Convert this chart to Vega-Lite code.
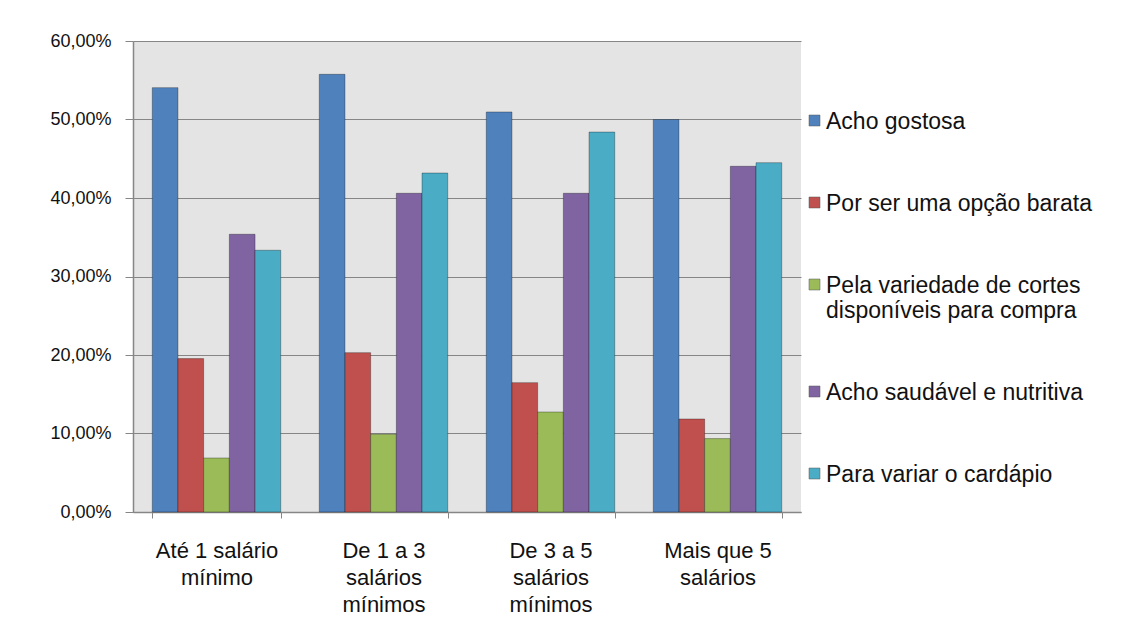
{
  "$schema": "https://vega.github.io/schema/vega-lite/v6.json",
  "autosize": "none",
  "width": 668,
  "height": 471,
  "padding": {"left": 133, "top": 41, "right": 335, "bottom": 120},
  "background": "#ffffff",
  "data": {
    "values": [
      {"faixa": "Até 1 salário|mínimo", "motivo": "Acho gostosa", "pct": 0.5406},
      {"faixa": "Até 1 salário|mínimo", "motivo": "Por ser uma opção barata", "pct": 0.1954},
      {"faixa": "Até 1 salário|mínimo", "motivo": "Pela variedade  de cortes|disponíveis para compra", "pct": 0.0688},
      {"faixa": "Até 1 salário|mínimo", "motivo": "Acho saudável e nutritiva", "pct": 0.3538},
      {"faixa": "Até 1 salário|mínimo", "motivo": "Para variar o cardápio", "pct": 0.3334},
      {"faixa": "De 1 a 3|salários|mínimos", "motivo": "Acho gostosa", "pct": 0.5576},
      {"faixa": "De 1 a 3|salários|mínimos", "motivo": "Por ser uma opção barata", "pct": 0.2030},
      {"faixa": "De 1 a 3|salários|mínimos", "motivo": "Pela variedade  de cortes|disponíveis para compra", "pct": 0.0990},
      {"faixa": "De 1 a 3|salários|mínimos", "motivo": "Acho saudável e nutritiva", "pct": 0.4060},
      {"faixa": "De 1 a 3|salários|mínimos", "motivo": "Para variar o cardápio", "pct": 0.4318},
      {"faixa": "De 3 a 5|salários|mínimos", "motivo": "Acho gostosa", "pct": 0.5096},
      {"faixa": "De 3 a 5|salários|mínimos", "motivo": "Por ser uma opção barata", "pct": 0.1648},
      {"faixa": "De 3 a 5|salários|mínimos", "motivo": "Pela variedade  de cortes|disponíveis para compra", "pct": 0.1274},
      {"faixa": "De 3 a 5|salários|mínimos", "motivo": "Acho saudável e nutritiva", "pct": 0.4060},
      {"faixa": "De 3 a 5|salários|mínimos", "motivo": "Para variar o cardápio", "pct": 0.4840},
      {"faixa": "Mais que 5|salários", "motivo": "Acho gostosa", "pct": 0.5000},
      {"faixa": "Mais que 5|salários", "motivo": "Por ser uma opção barata", "pct": 0.1185},
      {"faixa": "Mais que 5|salários", "motivo": "Pela variedade  de cortes|disponíveis para compra", "pct": 0.0935},
      {"faixa": "Mais que 5|salários", "motivo": "Acho saudável e nutritiva", "pct": 0.4404},
      {"faixa": "Mais que 5|salários", "motivo": "Para variar o cardápio", "pct": 0.4450}
    ]
  },
  "mark": {"type": "bar", "stroke": "#000000", "strokeOpacity": 0.3, "strokeWidth": 1},
  "encoding": {
    "x": {
      "field": "faixa",
      "type": "nominal",
      "sort": null,
      "title": null,
      "scale": {"paddingInner": 0.2308, "paddingOuter": 0.1154},
      "axis": {
        "labelAngle": 0,
        "labelExpr": "split(datum.label, '|')",
        "labelFont": "Liberation Sans",
        "labelFontSize": 22,
        "labelLineHeight": 27,
        "labelColor": "#111111",
        "labelPadding": 22,
        "labelLimit": 0,
        "tickBand": "extent",
        "tickSize": 6,
        "tickColor": "#868686",
        "domainColor": "#868686",
        "domainWidth": 1.5
      }
    },
    "xOffset": {
      "field": "motivo",
      "type": "nominal",
      "sort": ["Acho gostosa", "Por ser uma opção barata", "Pela variedade  de cortes|disponíveis para compra", "Acho saudável e nutritiva", "Para variar o cardápio"],
      "scale": {"paddingInner": 0, "paddingOuter": 0}
    },
    "y": {
      "field": "pct",
      "type": "quantitative",
      "title": null,
      "scale": {"domain": [0, 0.6], "nice": false},
      "axis": {
        "values": [0, 0.1, 0.2, 0.3, 0.4, 0.5, 0.6],
        "labelExpr": "replace(format(datum.value, '.2%'), '.', ',')",
        "labelFont": "Liberation Sans",
        "labelFontSize": 18,
        "labelColor": "#111111",
        "labelPadding": 14,
        "tickSize": 8,
        "tickColor": "#868686",
        "domainColor": "#868686",
        "domainWidth": 1.5,
        "grid": true,
        "gridColor": "#868686",
        "gridWidth": 1.2,
        "gridOpacity": 1
      }
    },
    "color": {
      "field": "motivo",
      "type": "nominal",
      "sort": ["Acho gostosa", "Por ser uma opção barata", "Pela variedade  de cortes|disponíveis para compra", "Acho saudável e nutritiva", "Para variar o cardápio"],
      "scale": {
        "domain": ["Acho gostosa", "Por ser uma opção barata", "Pela variedade  de cortes|disponíveis para compra", "Acho saudável e nutritiva", "Para variar o cardápio"],
        "range": ["#4f81bd", "#c0504d", "#9bbb59", "#8064a2", "#4bacc6"]
      },
      "legend": {
        "title": null,
        "orient": "none",
        "legendX": 670,
        "legendY": 68,
        "padding": 0,
        "symbolType": "square",
        "symbolSize": 121,
        "symbolStrokeWidth": 0.5,
        "symbolStrokeColor": "#555555",
        "labelExpr": "split(datum.label, '|')",
        "labelFont": "Liberation Sans",
        "labelFontSize": 23,
        "labelLineHeight": 26,
        "labelColor": "#111111",
        "labelOffset": 0,
        "labelLimit": 0,
        "labelBaseline": "top",
        "rowPadding": 57,
        "encode": {"labels": {"update": {"dy": {"value": -10}}}}
      }
    }
  },
  "config": {
    "view": {"fill": "#e4e4e4", "stroke": null}
  }
}
